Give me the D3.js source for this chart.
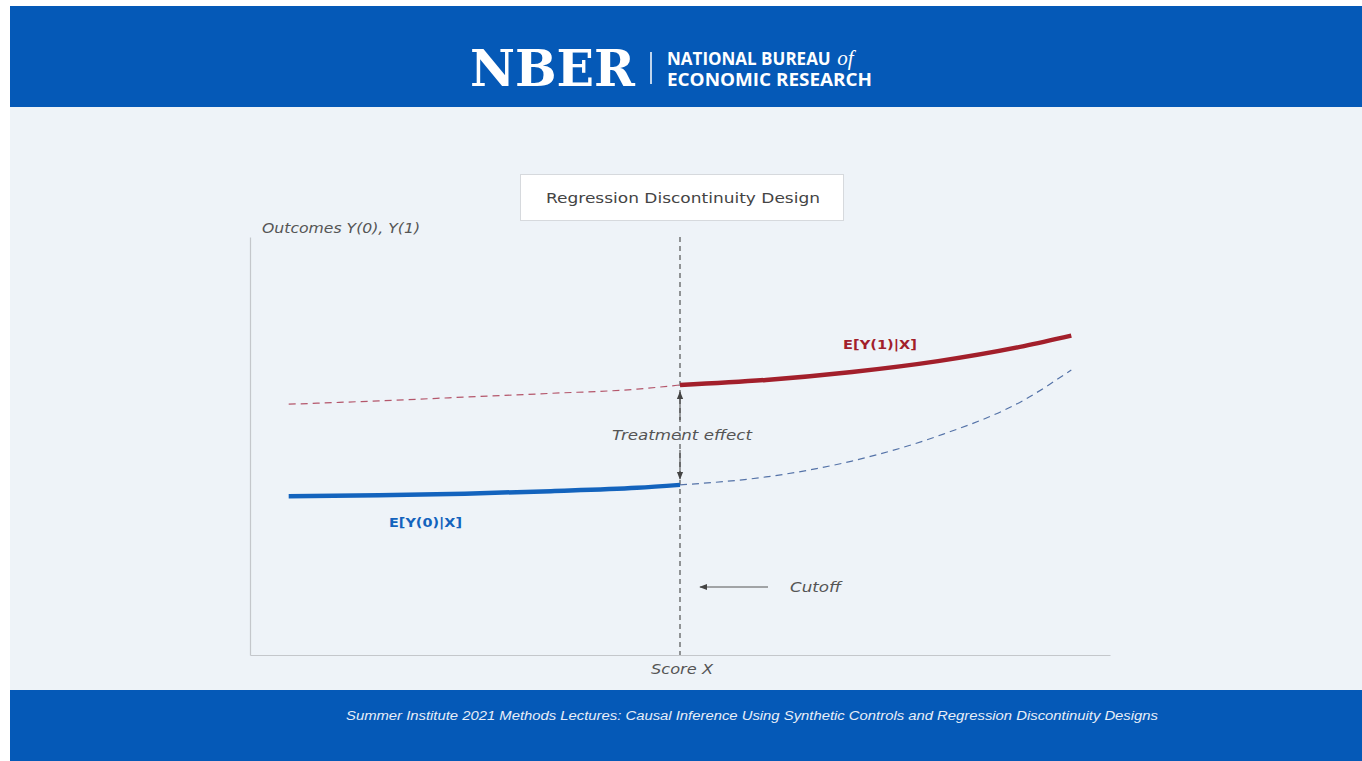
<!DOCTYPE html>
<html>
<head>
<meta charset="utf-8">
<script src="https://cdn.jsdelivr.net/npm/d3@7"></script>
<style>
  html, body { margin: 0; padding: 0; background: #ffffff; }
  svg { display: block; }
</style>
</head>
<body>
<svg id="chart" width="1362" height="761"></svg>
<script>
// Running variable (score) grid and the conditional expectation curves
const cutoff = 50;
const scoreLeft = [4.5, 15, 25, 35, 45, 50];
const scoreRight = [50, 60, 70, 80, 90, 95.5];

// E[Y(0)|X]: observed below the cutoff, counterfactual above
const y0Left = [38.0, 38.2, 38.6, 39.2, 40.0, 40.7];
const y0Right = [40.7, 42.6, 46.4, 52.4, 61.0, 68.2];

// E[Y(1)|X]: counterfactual below the cutoff, observed above
const y1Left = [60.0, 60.8, 61.7, 62.6, 63.6, 64.6];
const y1Right = [64.6, 65.8, 67.7, 70.3, 73.9, 76.4];

const titleText = "Regression Discontinuity Design";
const yAxisLabel = "Outcomes Y(0), Y(1)";
const xAxisLabel = "Score X";
const footerText = "Summer Institute 2021 Methods Lectures: Causal Inference Using Synthetic Controls and Regression Discontinuity Designs";

const svg = d3.select("#chart");
const W = 1362, H = 761;
const sans = "'Open Sans', 'Liberation Sans', sans-serif";
const wide = "'DejaVu Sans', 'Open Sans', sans-serif";

// Page frame: header band, light panel, footer band
svg.append("rect").attr("x", 0).attr("y", 0).attr("width", W).attr("height", H).attr("fill", "#ffffff");
svg.append("rect").attr("x", 10).attr("y", 6).attr("width", W - 10).attr("height", 101).attr("fill", "#0559b7");
svg.append("rect").attr("x", 10).attr("y", 107).attr("width", W - 10).attr("height", 583).attr("fill", "#eef3f8");
svg.append("rect").attr("x", 10).attr("y", 690).attr("width", W - 10).attr("height", 71).attr("fill", "#0559b7");

// Logo
const logo = svg.append("g");
logo.append("text")
  .attr("x", 470).attr("y", 86)
  .attr("font-family", "'DejaVu Serif', 'Liberation Serif', serif")
  .attr("font-weight", "bold")
  .attr("font-size", 50)
  .attr("textLength", 165).attr("lengthAdjust", "spacingAndGlyphs")
  .attr("fill", "#ffffff")
  .text("NBER");
logo.append("line")
  .attr("x1", 651).attr("x2", 651).attr("y1", 52).attr("y2", 84)
  .attr("stroke", "#ffffff").attr("stroke-width", 1.5);
const l1 = logo.append("text")
  .attr("x", 667).attr("y", 65)
  .attr("font-family", sans)
  .attr("font-weight", "bold").attr("font-size", 17)
  .attr("fill", "#ffffff");
l1.append("tspan").text("NATIONAL BUREAU ");
l1.append("tspan")
  .attr("font-family", "'Liberation Serif', serif")
  .attr("font-style", "italic").attr("font-weight", "normal").attr("font-size", 21)
  .attr("dx", 2)
  .text("of");
logo.append("text")
  .attr("x", 667).attr("y", 86)
  .attr("font-family", sans)
  .attr("font-weight", "bold").attr("font-size", 17)
  .attr("textLength", 205).attr("lengthAdjust", "spacingAndGlyphs")
  .attr("fill", "#ffffff")
  .text("ECONOMIC RESEARCH");

// Footer caption
svg.append("text")
  .attr("x", 752).attr("y", 720)
  .attr("text-anchor", "middle")
  .attr("font-family", "'Liberation Sans', Arial, sans-serif")
  .attr("font-style", "italic").attr("font-size", 12.5)
  .attr("textLength", 812).attr("lengthAdjust", "spacingAndGlyphs")
  .attr("fill", "#e8eef8")
  .text(footerText);

// Plain label helper; a broad face stretched to the slide's label widths
function label(sel, txt, xPos, yPos, opts) {
  const t = sel.append("text")
    .attr("x", xPos).attr("y", yPos)
    .attr("font-family", wide)
    .attr("font-size", opts.size || 14)
    .attr("fill", opts.fill || "#555555")
    .text(txt);
  if (opts.italic) t.attr("font-style", "italic");
  if (opts.weight) t.attr("font-weight", opts.weight);
  if (opts.width) t.attr("textLength", opts.width).attr("lengthAdjust", "spacingAndGlyphs");
  return t;
}

// Title box
svg.append("rect")
  .attr("x", 520.5).attr("y", 174.5).attr("width", 323).attr("height", 46)
  .attr("fill", "#ffffff").attr("stroke", "#d6d9dd").attr("stroke-width", 1);
label(svg, titleText, 546, 203, { size: 14.5, fill: "#444444", width: 274 });

// Scales
const x = d3.scaleLinear().domain([0, 100]).range([250, 1110]);
const y = d3.scaleLinear().domain([0, 100]).range([655, 237]);

// Axes: bare domain lines, no ticks
const axisColor = "#c4c7cb";
const gx = svg.append("g").attr("transform", `translate(0,${y(0)})`)
  .call(d3.axisBottom(x).tickValues([]).tickSizeOuter(0));
const gy = svg.append("g").attr("transform", `translate(${x(0)},0)`)
  .call(d3.axisLeft(y).tickValues([]).tickSizeOuter(0));
[gx, gy].forEach(g => g.select(".domain").attr("stroke", axisColor).attr("stroke-width", 1.2));

label(svg, yAxisLabel, 262, 233, { italic: true, width: 158 });
label(svg, xAxisLabel, 651, 674, { italic: true, width: 62 });

// Cutoff line
svg.append("line")
  .attr("x1", x(cutoff)).attr("x2", x(cutoff))
  .attr("y1", y(100)).attr("y2", y(0))
  .attr("stroke", "#444444").attr("stroke-width", 1.1)
  .attr("stroke-dasharray", "5,4");

// Curves
const line = d3.line().x(d => x(d[0])).y(d => y(d[1])).curve(d3.curveMonotoneX);
const zip = (a, b) => a.map((v, i) => [v, b[i]]);
const red = "#a21f2b", blue = "#1363bd";

svg.append("path").datum(zip(scoreLeft, y1Left)).attr("d", line)
  .attr("fill", "none").attr("stroke", "#b4566b").attr("stroke-width", 1.2).attr("stroke-dasharray", "7,5");
svg.append("path").datum(zip(scoreRight, y0Right)).attr("d", line)
  .attr("fill", "none").attr("stroke", "#5573a8").attr("stroke-width", 1.2).attr("stroke-dasharray", "7,5");
svg.append("path").datum(zip(scoreLeft, y0Left)).attr("d", line)
  .attr("fill", "none").attr("stroke", blue).attr("stroke-width", 4.5);
svg.append("path").datum(zip(scoreRight, y1Right)).attr("d", line)
  .attr("fill", "none").attr("stroke", red).attr("stroke-width", 4.5);

// Curve labels
label(svg, "E[Y(1)|X]", 843, 349, { size: 13, weight: "bold", fill: red, width: 74 });
label(svg, "E[Y(0)|X]", 389, 527, { size: 13, weight: "bold", fill: blue, width: 73 });

// Arrow markers
const defs = svg.append("defs");
defs.append("marker")
  .attr("id", "arrowhead").attr("viewBox", "0 0 10 10")
  .attr("refX", 9).attr("refY", 5)
  .attr("markerWidth", 8).attr("markerHeight", 8)
  .attr("markerUnits", "userSpaceOnUse")
  .attr("orient", "auto")
  .append("path").attr("d", "M0,1 L10,5 L0,9 z").attr("fill", "#444444");

// Treatment effect annotation
const gap = svg.append("g");
gap.append("line")
  .attr("x1", x(cutoff)).attr("x2", x(cutoff))
  .attr("y1", 420).attr("y2", y(y1Right[0]) + 7)
  .attr("stroke", "#444444").attr("stroke-width", 1).attr("marker-end", "url(#arrowhead)");
gap.append("line")
  .attr("x1", x(cutoff)).attr("x2", x(cutoff))
  .attr("y1", 450).attr("y2", y(y0Left[y0Left.length - 1]) - 6)
  .attr("stroke", "#444444").attr("stroke-width", 1).attr("marker-end", "url(#arrowhead)");
label(gap, "Treatment effect", 612, 440, { italic: true, width: 140 });

// Cutoff annotation
svg.append("line")
  .attr("x1", 768).attr("x2", 700).attr("y1", 587).attr("y2", 587)
  .attr("stroke", "#555555").attr("stroke-width", 1).attr("marker-end", "url(#arrowhead)");
label(svg, "Cutoff", 790, 592, { italic: true, width: 51 });
</script>
</body>
</html>
